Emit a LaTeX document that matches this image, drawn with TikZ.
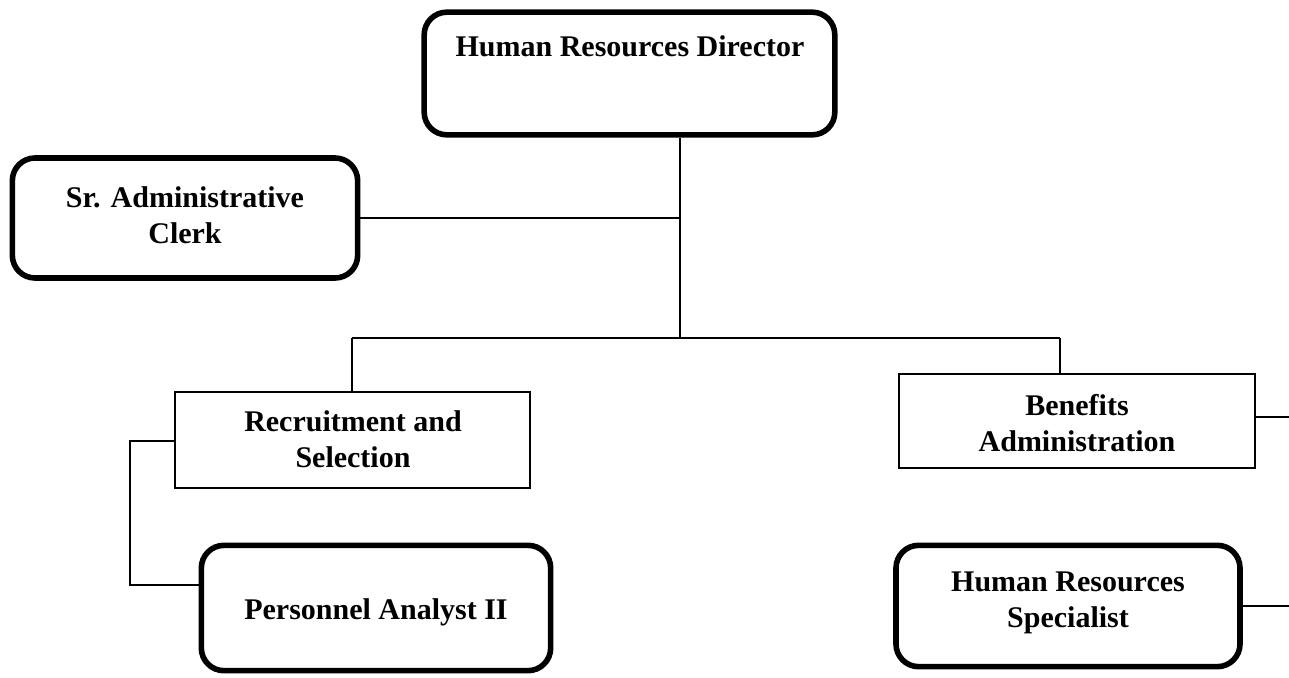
\documentclass[tikz,border=0pt]{standalone}
\usepackage{fontspec}
\setmainfont{Liberation Serif}
\usetikzlibrary{calc}
\begin{document}
\begin{tikzpicture}[x=0.75pt,y=-0.75pt,
  roundbox/.style={draw, line width=4.2pt, rounded corners=17pt, inner sep=0pt},
  plainbox/.style={draw, line width=1.5pt, inner sep=0pt},
  link/.style={line width=1.6pt},
  lbl/.style={align=center, inner sep=0pt, anchor=base,
    font=\fontsize{22.5}{26.5}\selectfont\bfseries}]
\useasboundingbox (0,0) rectangle (1289,678);

% boxes
\node[roundbox, minimum width=308pt, minimum height=92pt] (dir) at (629.5,73.5) {};
\node[roundbox, minimum width=259pt, minimum height=90pt] (clerk) at (185,218) {};
\node[plainbox, minimum width=266pt, minimum height=72pt] (rec) at (352.5,440) {};
\node[plainbox, minimum width=267pt, minimum height=71pt] (ben) at (1077,421) {};
\node[roundbox, minimum width=262pt, minimum height=94pt] (pers) at (376,608) {};
\node[roundbox, minimum width=258pt, minimum height=91pt] (spec) at (1068,606) {};

% box texts (positions are last-line baselines)
\node[lbl] (dirtext) at (630,56) {Human Resources Director};
\node[lbl] (clerktext) at (185,243) {Sr. Administrative\\Clerk};
\node[lbl] (rectext) at (353,467) {Recruitment and\\Selection};
\node[lbl] (bentext) at (1077,451) {Benefits\\Administration};
\node[lbl] (perstext) at (376,619) {Personnel Analyst II};
\node[lbl] (spectext) at (1068,627) {Human Resources\\Specialist};

% connector points
\coordinate (trunk) at (680,338);
\coordinate (busL) at (352,338);
\coordinate (busR) at (1060,338);
\coordinate (recturn) at (130,441);
\coordinate (persturn) at (130,585);
\coordinate (benout) at (1289,417);
\coordinate (specout) at (1289,606);

% connectors
\draw[link] (dir.south -| trunk) -- (trunk);
\draw[link] (clerk.east) -- (clerk.east -| trunk);
\draw[link] (busL) -- (busR);
\draw[link] (busL) -- (rec.north -| busL);
\draw[link] (busR) -- (ben.north -| busR);
\draw[link] (rec.west |- recturn) -- (recturn) -- (persturn) -- (pers.west |- persturn);
\draw[link] (ben.east |- benout) -- (benout);
\draw[link] (spec.east |- specout) -- (specout);
\end{tikzpicture}
\end{document}
